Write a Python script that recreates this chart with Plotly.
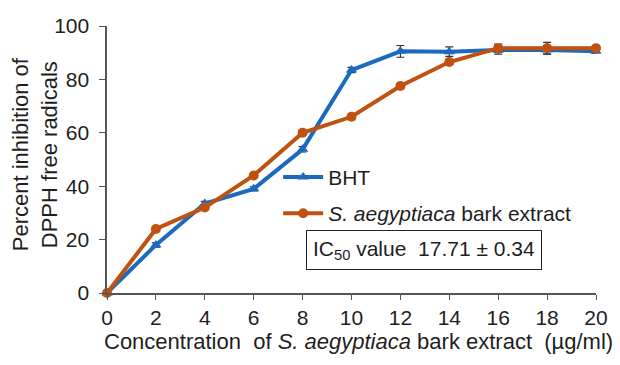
import plotly.graph_objects as go

conc = [0, 2, 4, 6, 8, 10, 12, 14, 16, 18, 20]
bht = [0, 18, 33.5, 39, 53.8, 83.5, 90.5, 90.4, 91, 91, 90.5]
bht_err = [0, 0.8, 0.8, 0.8, 1.0, 1.0, 2.2, 1.8, 1.5, 1.5, 0.8]
extract = [0, 24, 32, 44, 60, 66, 77.5, 86.5, 91.7, 91.7, 91.7]
extract_err = [0, 0.8, 0.8, 0.8, 0.8, 0.8, 1.0, 1.0, 1.5, 2.2, 1.0]
xticks = [0, 2, 4, 6, 8, 10, 12, 14, 16, 18, 20]
yticks = [0, 20, 40, 60, 80, 100]
ytick_labels = ["0", "20", "40", "60", "80", "100"]

blue = "#1b6ac0"
orange = "#c0520f"
TXT = "#1e1e1e"
FONT = "Liberation Sans, Arial, sans-serif"

fig = go.Figure()
fig.add_trace(go.Scatter(
    x=conc, y=bht, name="BHT", mode="lines+markers",
    line=dict(color=blue, width=4),
    marker=dict(symbol="triangle-up", size=10, color=blue),
    error_y=dict(type="data", array=bht_err, color="#333", thickness=1.2, width=4),
    cliponaxis=False, legendgroup="a",
))
fig.add_trace(go.Scatter(
    x=conc, y=extract, name="<i>S. aegyptiaca</i> bark extract", mode="lines+markers",
    line=dict(color=orange, width=4),
    marker=dict(symbol="circle", size=10, color=orange),
    error_y=dict(type="data", array=extract_err, color="#333", thickness=1.2, width=4),
    cliponaxis=False, legendgroup="b",
))

# IC50 box
fig.add_annotation(
    xref="paper", yref="paper", x=0.648, y=0.161, xanchor="center", yanchor="middle",
    text="IC<sub>50</sub> value  17.71 ± 0.34", showarrow=False,
    font=dict(size=21, color=TXT, family=FONT),
    bordercolor="#222", borderwidth=1, borderpad=6, bgcolor="white",
)
# Y axis title
fig.add_annotation(
    xref="paper", yref="paper", x=-0.147, y=0.52, xanchor="center", yanchor="middle",
    text="Percent inhibition of<br>DPPH free radicals", showarrow=False, textangle=-90,
    font=dict(size=22, color=TXT, family=FONT),
)
# X axis title
fig.add_annotation(
    xref="paper", yref="paper", x=0.515, y=-0.18, xanchor="center", yanchor="middle",
    text="Concentration  of <i>S. aegyptiaca</i> bark extract  (µg/ml)", showarrow=False,
    font=dict(size=22, color=TXT, family=FONT),
)

fig.update_layout(
    width=620, height=365,
    margin=dict(l=107, r=22, t=26, b=72),
    paper_bgcolor="white", plot_bgcolor="white",
    font=dict(family=FONT, size=21, color=TXT),
    showlegend=True,
    legend=dict(
        x=0.35, y=0.51, xanchor="left", yanchor="top",
        bgcolor="rgba(0,0,0,0)", font=dict(size=21, color=TXT),
        tracegroupgap=6, itemwidth=40,
    ),
    xaxis=dict(
        range=[0, 20], tickvals=xticks, ticks="outside", ticklen=5,
        tickcolor="#555", showline=True, linecolor="#555", linewidth=1.5,
        showgrid=False, zeroline=False, tickfont=dict(size=21),
    ),
    yaxis=dict(
        range=[0, 100], tickvals=yticks,
        ticktext=[t + "\u00a0" for t in ytick_labels],
        ticks="outside", ticklen=6,
        tickcolor="#555", showline=True, linecolor="#555", linewidth=1.5,
        showgrid=False, zeroline=False, tickfont=dict(size=21),
    ),
)

fig.write_html("out.html")
